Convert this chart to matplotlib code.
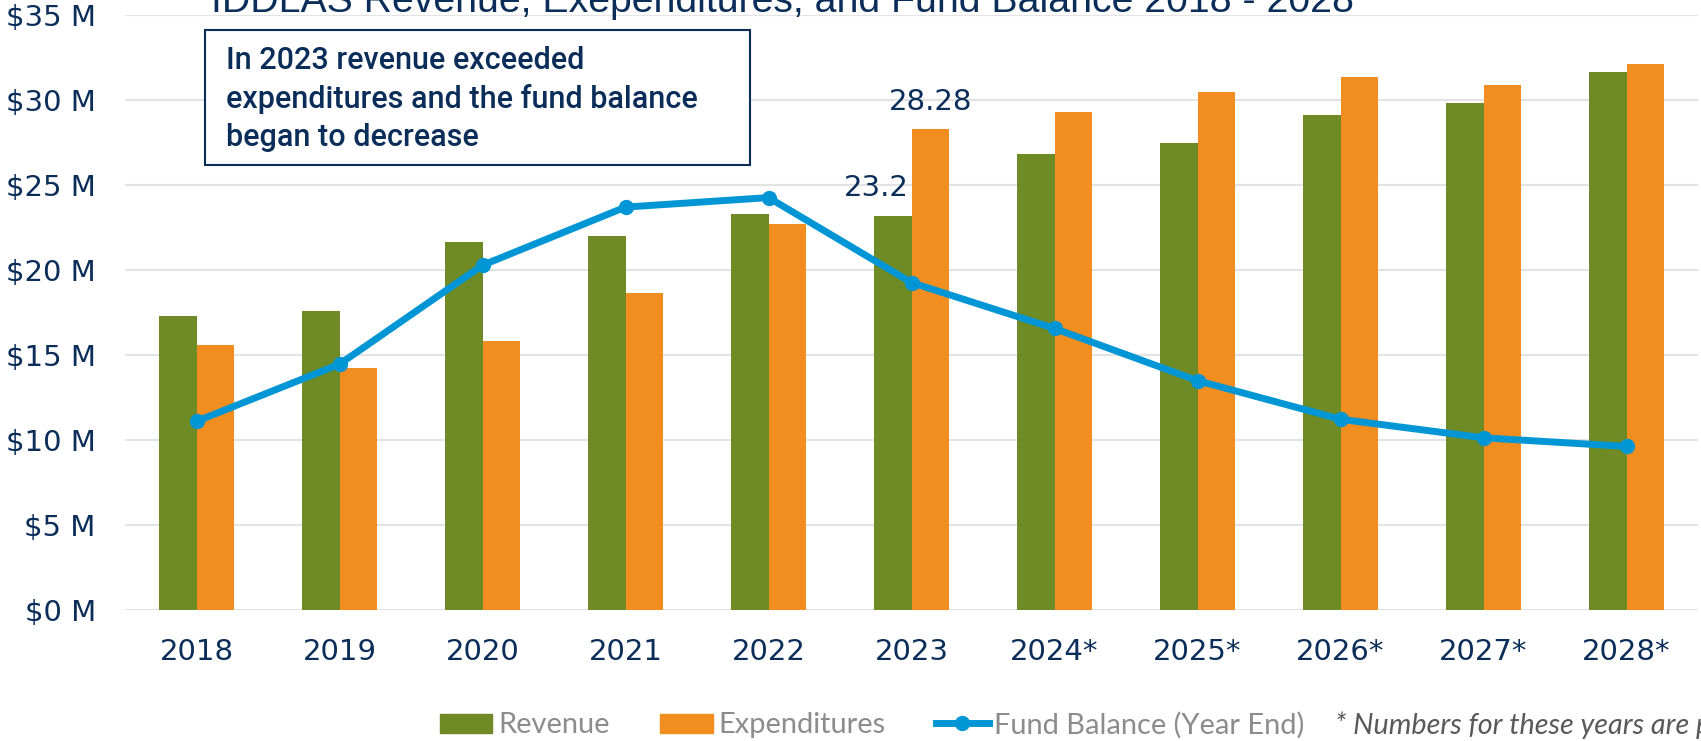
import matplotlib
matplotlib.use("Agg")
import matplotlib.pyplot as plt
import numpy as np
from matplotlib.lines import Line2D
from matplotlib.patches import Patch, Rectangle

# data ($ millions)
years = ["2018", "2019", "2020", "2021", "2022", "2023",
         "2024*", "2025*", "2026*", "2027*", "2028*"]
revenue = [17.27, 17.60, 21.66, 21.99, 23.29, 23.20, 26.81, 27.45, 29.11, 29.82, 31.63]
expenditures = [15.56, 14.23, 15.84, 18.62, 22.68, 28.28, 29.31, 30.48, 31.33, 30.89, 32.12]
fund_balance = [11.10, 14.46, 20.28, 23.70, 24.26, 19.26, 16.56, 13.49, 11.22, 10.13, 9.62]
y_ticks = [0, 5, 10, 15, 20, 25, 30, 35]

green = "#6E8B26"
orange = "#F28E1F"
blue = "#0096D6"
navy = "#0B2D59"

W, H = 1701, 741
fig = plt.figure(figsize=(W / 100, H / 100), dpi=100)
ax = fig.add_axes([125 / W, 131 / H, 1573 / W, 595 / H])

x = np.arange(len(years))
bw = 0.262
ax.bar(x - bw / 2, revenue, bw, color=green, zorder=2)
ax.bar(x + bw / 2, expenditures, bw, color=orange, zorder=2)
ax.plot(x, fund_balance, color=blue, lw=5, marker="o", ms=10, zorder=3)

ax.set_xlim(-0.5, len(years) - 0.5)
ax.set_ylim(0, 35)
ax.set_yticks(y_ticks)
ax.set_yticklabels([f"${v} M" for v in y_ticks])
ax.set_xticks(x)
ax.set_xticklabels(years)
ax.yaxis.grid(True, color="#E3E3E3", lw=1.5)
ax.set_axisbelow(True)
for s in ax.spines.values():
    s.set_visible(False)
ax.tick_params(axis="y", length=0, pad=21, labelsize=21, labelcolor=navy)
ax.tick_params(axis="x", length=0, pad=20, labelsize=21, labelcolor=navy)

# data labels for 2023
i23 = years.index("2023")
ax.annotate(f"{expenditures[i23]:.2f}", (x[i23] + bw / 2, expenditures[i23]),
            xytext=(0, 14), textcoords="offset points", ha="center", va="baseline",
            fontsize=21, color=navy)
ax.annotate(f"{revenue[i23]:g}", (x[i23], revenue[i23]),
            xytext=(-2, 14), textcoords="offset points", ha="right", va="baseline",
            fontsize=21, color=navy)

# title, clipped at the top like the original
title = fig.text(782 / W, 1 - 12 / H, "IDDLAS Revenue, Exependitures, and Fund Balance 2018 - 2028",
                 ha="center", va="baseline", color=navy, fontsize=33,
                 family=["Liberation Sans Narrow", "Liberation Sans"])
fig.canvas.draw()
r = fig.canvas.get_renderer()
tw = title.get_window_extent(r).width
title.set_fontsize(33 * 1145 / tw)

# annotation box
fig.patches.append(Rectangle((205 / W, 1 - 165 / H), 545 / W, 135 / H,
                             transform=fig.transFigure, facecolor="white",
                             edgecolor=navy, lw=1.5, zorder=5))
note = ["In 2023 revenue exceeded", "expenditures and the fund balance", "began to decrease"]
baselines = [69, 107.5, 146]
note_txt = []
for line, b in zip(note, baselines):
    t = fig.text(226 / W, 1 - b / H, line, ha="left", va="baseline", color=navy,
                 fontsize=21, family="Roboto", fontweight="medium", zorder=6)
    note_txt.append(t)
fig.canvas.draw()
nw = note_txt[1].get_window_extent(r).width
for t in note_txt:
    t.set_fontsize(21 * 471 / nw)

# legend
handles = [Patch(color=green), Patch(color=orange),
           Line2D([], [], color=blue, lw=5, marker="o", ms=10)]
labels = ["Revenue", "Expenditures", "Fund Balance (Year End)"]
fig.legend(handles, labels, loc="center left", bbox_to_anchor=(440 / W, 1 - 725 / H),
           ncol=3, frameon=False, borderpad=0, borderaxespad=0,
           handlelength=1.8, handleheight=0.65, handletextpad=0.2, columnspacing=1.75,
           prop={"family": "Lato", "size": 20.9}, labelcolor="#8C8C8C")
fig.text(1335 / W, 1 - 725 / H, "* Numbers for these years are projections",
         ha="left", va="center", fontsize=20.7, family="Lato", style="italic",
         color="#595959")

fig.savefig("out.png", dpi=100)
